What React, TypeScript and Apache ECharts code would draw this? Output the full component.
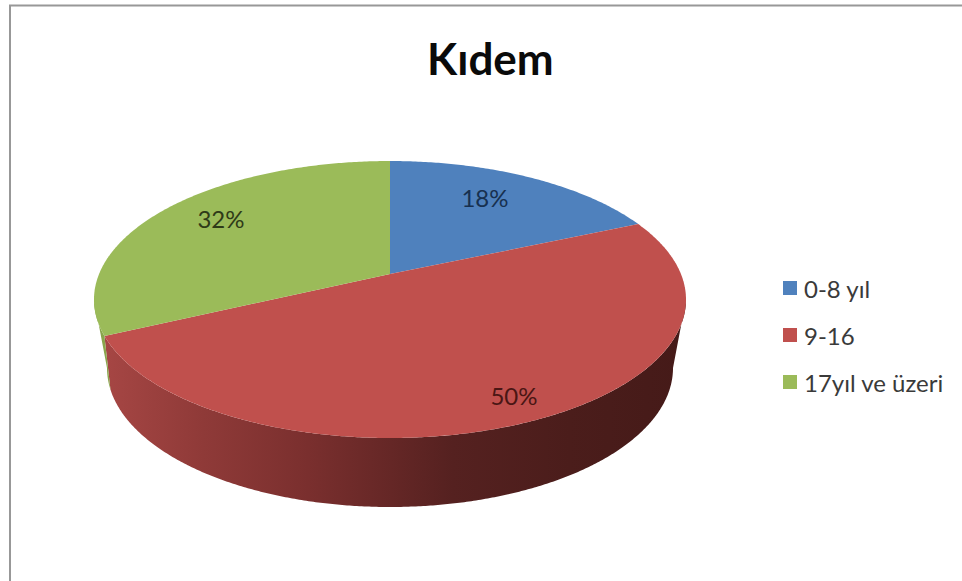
import React, { useEffect, useRef } from "react";
import * as echarts from "echarts";

const titleText = "Kıdem";
const categories = ["0-8 yıl", "9-16", "17yıl ve üzeri"];
const shareValues = [18, 50, 32];

const topColors = ["#4F81BD", "#C0504D", "#9BBB59"];
const labelColors = ["#17304f", "#4a1614", "#2f3a18"];
const labelSpots: [number, number][] = [[485, 197], [514, 395], [221, 218]];

const FONT = "Lato, 'Open Sans', sans-serif";
const CX = 390, CY = 299.5, RX = 296, RY = 138.5;
const APEX_Y = 274;
const FOOT_CY = 368, FOOT_RX = 283, FOOT_RY = 139;
const total = shareValues.reduce((a, b) => a + b, 0);
const rad = Math.PI / 180;

// the reference's 3D perspective stretches the front of the pie: true angle -> drawn rim angle
const tilt = (deg: number) => deg - 9.8 * Math.sin(deg * rad) + 1.4 * Math.sin(2 * deg * rad);
// the lower rim is a smaller ellipse, so a wall edge leans inwards on its way down
const foot = (deg: number) => 270 - 180 * Math.pow(Math.max(0, (270 - deg) / 180), 1.215);

const arcOn = (cy: number, rx: number, ry: number, a: number, b: number) => {
  const pts: [number, number][] = [];
  const n = Math.max(2, Math.ceil(Math.abs(b - a) * 2));
  for (let i = 0; i <= n; i++) {
    const d = (a + ((b - a) * i) / n) * rad;
    pts.push([CX + rx * Math.sin(d), cy - ry * Math.cos(d)]);
  }
  return pts;
};
const topArc = (a: number, b: number) => arcOn(CY, RX, RY, a, b);
const footArc = (a: number, b: number) => arcOn(FOOT_CY, FOOT_RX, FOOT_RY, a, b);

const wallRed = new echarts.graphic.LinearGradient(0, 0, 1, 0, [
  { offset: 0, color: "#A64644" },
  { offset: 0.17, color: "#8F3A38" },
  { offset: 0.35, color: "#7A2F2E" },
  { offset: 0.6, color: "#552120" },
  { offset: 0.8, color: "#4B1D1B" },
  { offset: 1, color: "#451A18" },
]);
const wallColors: any[] = ["#3F6797", wallRed, "#89A54C"];

export default function App() {
  const ref = useRef<HTMLDivElement>(null);
  useEffect(() => {
    const chart = echarts.init(ref.current!, null, { renderer: "svg" });
    let acc = 0;
    const series = categories.map((name, i) => {
      const start = (acc / total) * 360;
      acc += shareValues[i];
      const end = (acc / total) * 360;
      return {
        type: "custom",
        name,
        coordinateSystem: "none",
        itemStyle: { color: topColors[i] },
        data: [[shareValues[i]]],
        renderItem: (_p: any, api: any) => {
          const a = tilt(start);
          const b = tilt(end);
          const children: any[] = [];
          const wa = Math.max(a, 90);
          const wb = Math.min(b, 270);
          if (wb > wa) {
            children.push({
              type: "polygon",
              shape: { points: [...topArc(wa, wb), ...footArc(foot(wb), foot(wa))] },
              style: { fill: wallColors[i] },
            });
          }
          children.push({
            type: "polygon",
            shape: { points: [[CX, APEX_Y], ...topArc(a, b)] },
            style: { fill: topColors[i] },
          });
          children.push({
            type: "text",
            z2: 10,
            style: {
              x: labelSpots[i][0],
              y: labelSpots[i][1],
              text: `${api.value(0)}%`,
              fill: labelColors[i],
              font: `24px ${FONT}`,
              align: "center",
              verticalAlign: "middle",
            },
          });
          return { type: "group", children };
        },
      };
    });
    chart.setOption({
      animation: false,
      backgroundColor: "#ffffff",
      title: {
        text: titleText,
        left: 427,
        top: 36,
        padding: 0,
        textStyle: { fontFamily: FONT, fontSize: 44, fontWeight: "bold", color: "#0a0a0a" },
      },
      legend: {
        orient: "vertical",
        left: 783,
        top: 275,
        padding: 0,
        itemWidth: 14,
        itemHeight: 14,
        itemGap: 21,
        icon: "rect",
        data: categories,
        textStyle: {
          fontFamily: FONT,
          fontSize: 24,
          color: "#3a3a3a",
          lineHeight: 26,
          height: 26,
          padding: [0, 0, 0, 2],
        },
      },
      graphic: [
        {
          type: "polyline",
          silent: true,
          shape: { points: [[10, 581], [10, 5.5], [962, 5.5]] },
          style: { fill: "none", stroke: "#989898", lineWidth: 2 },
        },
      ],
      series,
    });
    return () => chart.dispose();
  }, []);
  return <div ref={ref} style={{ position: "fixed", left: 0, top: 0, width: 962, height: 581 }} />;
}
